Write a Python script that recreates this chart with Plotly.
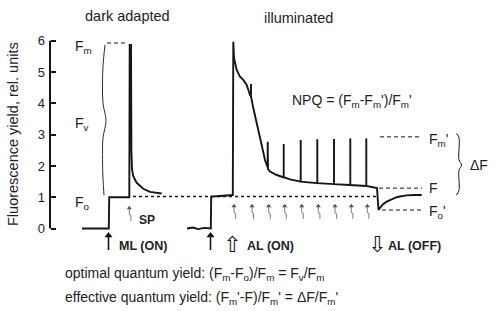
import plotly.graph_objects as go

W, H = 499, 311
FONT = "Liberation Sans, Arial, Helvetica, sans-serif"
INK = "#151515"

# ---------------- data (time in arbitrary units, fluorescence in rel. units) -------------
# dark-adapted trace: ML on, then one saturating pulse (SP)
t_dark = [82, 108.8, 109.2, 129.3, 129.7, 131.0, 131.4, 132.0, 133.3, 136.7, 143.3, 150, 161.7]
f_dark = [0.0, 0.0, 1.0, 1.0, 5.87, 5.87, 2.5, 1.88, 1.67, 1.46, 1.27, 1.17, 1.12]

# illuminated trace (curve without the repetitive saturating pulses)
t_ill = [187, 193, 198, 204, 210.8, 211.2, 220, 232.8, 233.3, 234.0, 236.7, 240, 243.3,
         246.7, 250, 253.3, 256.7, 260, 263.3, 265, 266.7, 268, 270, 276.7, 283.3, 290,
         300, 317, 334, 350, 366, 377, 378.5, 380, 383, 386.7, 390, 393, 396.7, 401,
         406.7, 414, 421.7]
f_ill = [0.0, 0.03, -0.02, 0.02, 0.0, 1.02, 1.04, 1.07, 5.97, 5.45, 5.07, 4.85, 4.75,
         4.59, 4.27, 3.85, 3.40, 2.92, 2.44, 2.19, 2.00, 1.90, 1.82, 1.71, 1.64, 1.57,
         1.50, 1.45, 1.42, 1.39, 1.36, 1.29, 0.59, 0.66, 0.78, 0.86, 0.91, 0.97, 1.00, 1.03,
         1.06, 1.07, 1.07]

# saturating pulses during actinic light
sp_t = [251, 267.7, 283.7, 300.7, 317.3, 334, 350.3, 366.3]
sp_base = [4.22, 1.95, 1.64, 1.50, 1.45, 1.42, 1.39, 1.36]
sp_top = [4.62, 2.77, 2.70, 2.83, 2.85, 2.86, 2.88, 2.88]

# flash (SP) markers
flash_dark = [129.3]
flash_light = [233, 251, 267.7, 283.7, 300.7, 317.3, 334, 350.3, 366.3]

# events
ml_on = [108.5, 210.5]
al_on = 232.3
al_off = 376.5

# reference levels
Fo_level = 1.02
Fm_level = 5.93
Fm_prime = 2.93
F_level = 1.29
Fo_prime = 0.59

y_ticks = [0, 1, 2, 3, 4, 5, 6]

# ---------------- helpers --------------------------------------------------------------
Y0_PX, SCALE = 228.5, 31.28      # pixel row of F = 0 and pixels per unit
y_top = Y0_PX / SCALE
y_bot = -(H - Y0_PX) / SCALE


def v_of(py):
    return (Y0_PX - py) / SCALE


def pxp(x):
    return x / W


def pyp(y):
    return 1 - y / H


# merge pulses into the illuminated curve
pts = [(t, f, 0) for t, f in zip(t_ill, f_ill)]
for t, b, top in zip(sp_t, sp_base, sp_top):
    pts += [(t, b, 1), (t, top, 2), (t, b, 3)]
pts.sort(key=lambda p: (p[0], p[2]))
t_full = [p[0] for p in pts]
f_full = [p[1] for p in pts]

fig = go.Figure()

line_kw = dict(color=INK, width=1.9)
fig.add_trace(go.Scatter(x=t_dark, y=f_dark, mode="lines", line=line_kw, hoverinfo="skip"))
fig.add_trace(go.Scatter(x=t_full, y=f_full, mode="lines", line=line_kw, hoverinfo="skip"))

# dotted Fo reference
fig.add_trace(go.Scatter(x=[133, 378], y=[Fo_level, Fo_level], mode="lines",
                         line=dict(color=INK, width=1.5, dash="dot"), hoverinfo="skip"))

# dashed reference levels
dash_kw = dict(color=INK, width=1, dash="4px,3px")
for x0, x1, lv in [(107, 128, Fm_level), (380, 422, Fm_prime), (379, 422, F_level),
                   (382, 423, Fo_prime)]:
    fig.add_trace(go.Scatter(x=[x0, x1], y=[lv, lv], mode="lines", line=dash_kw,
                             hoverinfo="skip"))

# braces
fig.add_trace(go.Scatter(x=[105, 103, 102.5, 103, 106, 103, 102.5, 103, 104],
                         y=[5.87, 5.2, 4.6, 4.0, 3.45, 2.9, 2.2, 1.6, 1.06],
                         mode="lines", line=dict(color=INK, width=0.9, shape="spline"),
                         hoverinfo="skip"))
fig.add_trace(go.Scatter(x=[456.5, 459, 459, 461.5, 459, 459, 456.5],
                         y=[3.04, 2.9, 2.2, 2.03, 1.86, 1.22, 1.07],
                         mode="lines", line=dict(color=INK, width=1, shape="spline"),
                         hoverinfo="skip"))

# ML on arrows: shaft + filled head
sx, sy, hx, hy = [], [], [], []
for x in ml_on:
    sx += [x, x, None]
    sy += [v_of(250), v_of(237), None]
    hx.append(x)
    hy.append(v_of(235.5))
fig.add_trace(go.Scatter(x=sx, y=sy, mode="lines", line=dict(color=INK, width=1.6),
                         hoverinfo="skip"))
fig.add_trace(go.Scatter(x=hx, y=hy, mode="markers",
                         marker=dict(symbol="triangle-up", size=7, color=INK),
                         hoverinfo="skip"))

# flash arrows (small arrow with a lightning kink)
fx, fy, gx, gy = [], [], [], []
for x, tip in [(x, 206) for x in flash_dark] + [(x + 1, 204) for x in flash_light]:
    fx += [x, x, x + 1.6, x + 1.6, None]
    fy += [v_of(tip + 3), v_of(tip + 8), v_of(tip + 10), v_of(tip + 15), None]
    gx.append(x)
    gy.append(v_of(tip + 2))
fig.add_trace(go.Scatter(x=fx, y=fy, mode="lines", line=dict(color="#888", width=1.1),
                         hoverinfo="skip"))
fig.add_trace(go.Scatter(x=gx, y=gy, mode="markers",
                         marker=dict(symbol="triangle-up", size=4.5, color="#555"),
                         hoverinfo="skip"))

# y axis line
fig.add_shape(type="line", xref="x", yref="y", x0=50, x1=50, y0=0, y1=6,
              line=dict(color=INK, width=2))

ann = []


def text(x, y, s, size=14, anchor="left", bold=False, family=FONT, angle=0, color="#222"):
    ann.append(dict(x=pxp(x), y=pyp(y), xref="paper", yref="paper", text=s,
                    showarrow=False, xanchor=anchor, yanchor="middle", textangle=angle,
                    font=dict(family=family, size=size, color=color)))


text(128, 16, "dark adapted", 14.5, "center")
text(298, 18, "illuminated", 14.5, "center")
text(13, 134, "Fluorescence yield, rel. units", 14.5, "center", angle=-90)

text(73, 47, "F<sub>m</sub>", 14)
text(73, 124, "F<sub>v</sub>", 14)
text(73, 203, "F<sub>o</sub>", 14)
text(427, 140, "F<sub>m</sub>'", 14)
text(427, 188, "F", 14)
text(427, 212, "F<sub>o</sub>'", 14)
text(468, 165, "ΔF", 14)

text(290, 101, "NPQ = (F<sub>m</sub>-F<sub>m</sub>')/F<sub>m</sub>'", 14)
text(63, 274, "optimal quantum yield: (F<sub>m</sub>-F<sub>o</sub>)/F<sub>m</sub> = "
     "F<sub>v</sub>/F<sub>m</sub>", 14)
text(63, 298, "effective quantum yield: (F<sub>m</sub>'-F)/F<sub>m</sub>' = "
     "ΔF/F<sub>m</sub>'", 14)

text(117, 246, "<b>ML (ON)</b>", 12.5)
text(245, 246, "<b>AL (ON)</b>", 12.5)
text(386, 246, "<b>AL (OFF)</b>", 12.5)
text(137, 220, "<b>SP</b>", 12)

text(al_on, 244, "⇧", 22, "center", family="DejaVu Sans", color=INK)
text(al_off, 244, "⇩", 22, "center", family="DejaVu Sans", color=INK)

fig.update_layout(
    width=W, height=H, margin=dict(l=0, r=0, t=0, b=0),
    paper_bgcolor="white", plot_bgcolor="white", showlegend=False,
    xaxis=dict(range=[0, W], visible=False, fixedrange=True),
    yaxis=dict(range=[y_bot, y_top], tickvals=y_ticks, ticks="inside", ticklen=5,
               tickwidth=1.5, tickcolor=INK, showgrid=False, zeroline=False,
               showline=False, anchor="free", position=50 / W, ticklabelstandoff=5,
               tickfont=dict(family=FONT, size=13, color="#222"), fixedrange=True),
    annotations=ann,
)

fig.write_html("out.html")
